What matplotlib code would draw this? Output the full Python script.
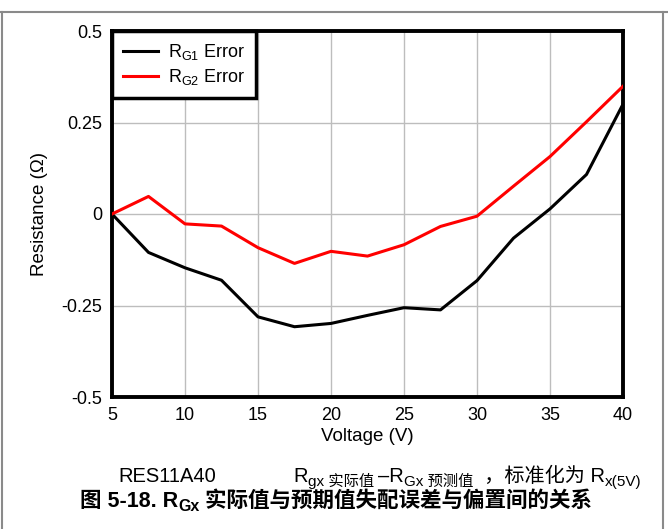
import matplotlib
matplotlib.use("Agg")
import matplotlib.pyplot as plt
from matplotlib.lines import Line2D

plt.rcParams['font.family'] = ['Liberation Sans', 'Noto Sans CJK SC', 'DejaVu Sans']
plt.rcParams['mathtext.fontset'] = 'custom'
plt.rcParams['mathtext.rm'] = 'Liberation Sans'
plt.rcParams['mathtext.default'] = 'regular'

voltage = [5, 7.5, 10, 12.5, 15, 17.5, 20, 22.5, 25, 27.5, 30, 32.5, 35, 37.5, 40]
rg1_error = [0.0, -0.105, -0.147, -0.181, -0.281, -0.308, -0.299, -0.277, -0.256,
             -0.262, -0.182, -0.066, 0.014, 0.108, 0.300]
rg2_error = [0.0, 0.048, -0.027, -0.033, -0.092, -0.135, -0.102, -0.115, -0.084,
             -0.034, -0.006, 0.076, 0.157, 0.252, 0.349]
xticks = [5, 10, 15, 20, 25, 30, 35, 40]
yticks = [-0.5, -0.25, 0, 0.25, 0.5]
ytick_labels = ['-0.5', '-0.25', '0', '0.25', '0.5']

W, H = 668, 529
fig = plt.figure(figsize=(W / 100, H / 100), dpi=100)
ax = fig.add_axes([112 / W, 1 - 397 / H, (623 - 112) / W, (397 - 31) / H])

ax.plot(voltage, rg1_error, color='black', lw=2.2, label=r'R$_{G1}$ Error', zorder=3)
ax.plot(voltage, rg2_error, color='#ff0000', lw=2.2, label=r'R$_{G2}$ Error', zorder=3)

ax.set_xlim(5, 40)
ax.set_ylim(-0.5, 0.5)
ax.set_xticks(xticks)
ax.set_xticklabels([str(v) for v in xticks])
ax.set_yticks(yticks)
ax.set_yticklabels(ytick_labels)
ax.tick_params(length=0, labelsize=13, pad=7)
ax.grid(True, color='#bdbdbd', lw=1.0)
ax.set_axisbelow(True)
for s in ax.spines.values():
    s.set_linewidth(2.8)
    s.set_color('black')

ax.set_xlabel('Voltage (V)', fontsize=13.5, labelpad=3)
ax.set_ylabel('Resistance (Ω)', fontsize=13.5, labelpad=10)

leg = ax.legend(loc='upper left', borderaxespad=0, fancybox=False, fontsize=13,
                handlelength=1.95, handletextpad=0.55, borderpad=0.6,
                labelspacing=0.3, framealpha=1)
leg.get_frame().set_edgecolor('black')
leg.get_frame().set_linewidth(2.5)

# figure border lines
border = '#8a8a8a'
fig.add_artist(Line2D([0, 1], [1 - 12 / H, 1 - 12 / H], color=border, lw=1.5, transform=fig.transFigure))
fig.add_artist(Line2D([1.5 / W, 1.5 / W], [0, 1 - 12 / H], color=border, lw=1.5, transform=fig.transFigure))
fig.add_artist(Line2D([663 / W, 663 / W], [0, 1 - 12 / H], color=border, lw=1.5, transform=fig.transFigure))

# clipped text fragment at top (as in the reference)
fig.text(290 / W, 1 + 6 / H, 'Gx', fontsize=11, fontweight='bold', ha='left', va='center')


def chain(parts, x0, y0, weight='normal'):
    prev = None
    for txt, size, dy in parts:
        if prev is None:
            t = fig.text(x0 / W, (H - y0 - dy) / H, txt, fontsize=size, fontweight=weight,
                         ha='left', va='baseline')
        else:
            t = fig.add_artist(plt.Annotation(txt, xy=(1, H - y0 - dy),
                                              xycoords=(prev, 'figure pixels'),
                                              fontsize=size, fontweight=weight,
                                              ha='left', va='baseline'))
        prev = t
    return prev


fig.text(118 / W, (H - 482) / H, 'RES11A40', fontsize=14.5, ha='left', va='baseline')
chain([('R', 14.5, 0), ('gx 实际值 ', 11, 4), ('–R', 14.5, 0), ('Gx 预测值', 11, 4),
       ('  ，标准化为 R', 14.5, 0), ('x(5V)', 11, 4)], 293, 482)

chain([('图 5-18. R', 15.5, 0), ('Gx', 11.5, 4), (' 实际值与预期值失配误差与偏置间的关系', 15.5, 0)],
      80, 507, weight='bold')

fig.savefig('out.png', dpi=100)
